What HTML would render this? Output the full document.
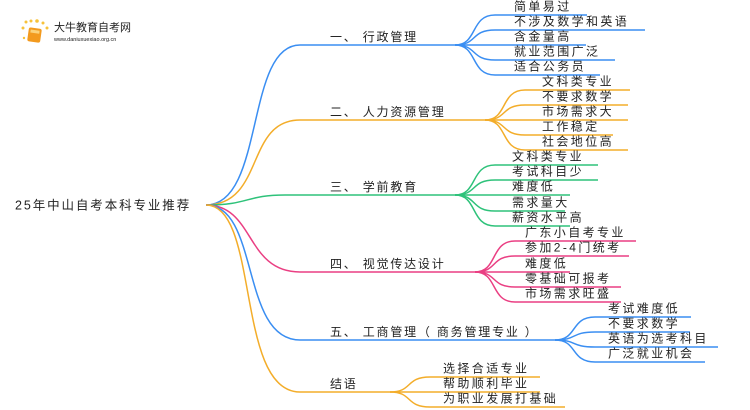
<!DOCTYPE html>
<html><head><meta charset="utf-8"><style>
html,body{margin:0;padding:0;background:#fff;}
svg{display:block;}
text{font-family:"Liberation Sans","Noto Sans CJK SC",sans-serif;fill:#222;}
</style></head><body>
<svg width="750" height="410" viewBox="0 0 750 410" xmlns="http://www.w3.org/2000/svg">
<g fill="none" stroke-width="1.5">
<path d="M206,205 C265,205 245,45 300,45 L455,45" stroke="#3a8ef2"/>
<g stroke="#3a8ef2">
<path d="M455,45 C478,45 470,15 495,15 L587,15"/>
<path d="M455,45 C478,45 470,30 495,30 L645,30"/>
<path d="M455,45 L586,45"/>
<path d="M455,45 C478,45 470,60 495,60 L615,60"/>
<path d="M455,45 C478,45 470,75 495,75 L600,75"/>
</g>
<path d="M206,205 C265,205 245,120 300,120 L485,120" stroke="#f3ad2a"/>
<g stroke="#f3ad2a">
<path d="M485,120 C508,120 500,90 525,90 L630,90"/>
<path d="M485,120 C508,120 500,105 525,105 L628,105"/>
<path d="M485,120 L628,120"/>
<path d="M485,120 C508,120 500,135 525,135 L613,135"/>
<path d="M485,120 C508,120 500,150 525,150 L628,150"/>
</g>
<path d="M206,205 C250,205 245,195 285,195 L455,195" stroke="#2ec27a"/>
<g stroke="#2ec27a">
<path d="M455,195 C478,195 470,165 495,165 L598,165"/>
<path d="M455,195 C478,195 470,180 495,180 L598,180"/>
<path d="M455,195 L570,195"/>
<path d="M455,195 C478,195 470,211 495,211 L565,211"/>
<path d="M455,195 C478,195 470,226 495,226 L570,226"/>
</g>
<path d="M206,205 C255,205 245,272 300,272 L475,272" stroke="#ea3f83"/>
<g stroke="#ea3f83">
<path d="M475,272 C498,272 490,241 515,241 L636,241"/>
<path d="M475,272 C498,272 490,256 515,256 L629,256"/>
<path d="M475,272 L570,272"/>
<path d="M475,272 C498,272 490,287 515,287 L621,287"/>
<path d="M475,272 C498,272 490,302 515,302 L621,302"/>
</g>
<path d="M206,205 C260,205 240,340 300,340 L555,340" stroke="#3a8ef2"/>
<g stroke="#3a8ef2">
<path d="M555,340 C578,340 570,317 595,317 L691,317"/>
<path d="M555,340 C578,340 570,332 595,332 L690,332"/>
<path d="M555,340 C578,340 570,347 595,347 L718,347"/>
<path d="M555,340 C578,340 570,362 595,362 L705,362"/>
</g>
<path d="M206,205 C260,205 235,392 300,392 L390,392" stroke="#f3ad2a"/>
<g stroke="#f3ad2a">
<path d="M390,392 C413,392 405,377 430,377 L540,377"/>
<path d="M390,392 L540,392"/>
<path d="M390,392 C413,392 405,407 430,407 L565,407"/>
</g>
</g>
<g>
<circle cx="23" cy="28" r="1.5" fill="#f7c23a"/><circle cx="26" cy="22" r="1.5" fill="#f7c23a"/>
<circle cx="31" cy="21" r="1.5" fill="#f7c23a"/><circle cx="37" cy="21" r="1.8" fill="#f7c23a"/>
<circle cx="43" cy="23" r="1.5" fill="#f7c23a"/><circle cx="47" cy="28" r="1.5" fill="#f7c23a"/>
<circle cx="24" cy="38" r="1.2" fill="#f7c23a"/>
<rect x="28" y="28" width="13" height="14" rx="2" fill="#f39a1e" transform="rotate(8 34 35)"/>
<rect x="30" y="30" width="9" height="3" fill="#fbd27a" transform="rotate(8 34 35)"/>
</g>
<text x="54" y="31" font-size="11" fill="#333">大牛教育自考网</text>
<text x="54" y="41" font-size="5.5" fill="#555">www.daniuxuexiao.org.cn</text>
<text x="15" y="209.5" font-size="12.5" letter-spacing="1.9">25年中山自考本科专业推荐</text>
<g font-size="12" letter-spacing="1.8">
<text x="330" y="41">一、 行政管理</text>
<text x="330" y="116">二、 人力资源管理</text>
<text x="330" y="191">三、 学前教育</text>
<text x="330" y="268">四、 视觉传达设计</text>
<text x="330" y="336">五、 工商管理（ 商务管理专业 ）</text>
<text x="330" y="388">结语</text>
</g>
<g font-size="12" letter-spacing="2.4" transform="translate(0,-1.5)">
<text x="514" y="12">简单易过</text>
<text x="514" y="27">不涉及数学和英语</text>
<text x="514" y="42">含金量高</text>
<text x="514" y="57">就业范围广泛</text>
<text x="514" y="72">适合公务员</text>
<text x="542" y="87">文科类专业</text>
<text x="542" y="102">不要求数学</text>
<text x="542" y="117">市场需求大</text>
<text x="542" y="132">工作稳定</text>
<text x="542" y="147">社会地位高</text>
<text x="512" y="162">文科类专业</text>
<text x="512" y="177">考试科目少</text>
<text x="512" y="192">难度低</text>
<text x="512" y="208">需求量大</text>
<text x="512" y="223">薪资水平高</text>
<text x="525" y="238">广东小自考专业</text>
<text x="525" y="253">参加2-4门统考</text>
<text x="525" y="269">难度低</text>
<text x="525" y="284">零基础可报考</text>
<text x="525" y="299">市场需求旺盛</text>
<text x="608" y="314">考试难度低</text>
<text x="608" y="329">不要求数学</text>
<text x="608" y="344">英语为选考科目</text>
<text x="608" y="359">广泛就业机会</text>
<text x="443" y="374">选择合适专业</text>
<text x="443" y="389">帮助顺利毕业</text>
<text x="443" y="404">为职业发展打基础</text>
</g>
</svg>
</body></html>
